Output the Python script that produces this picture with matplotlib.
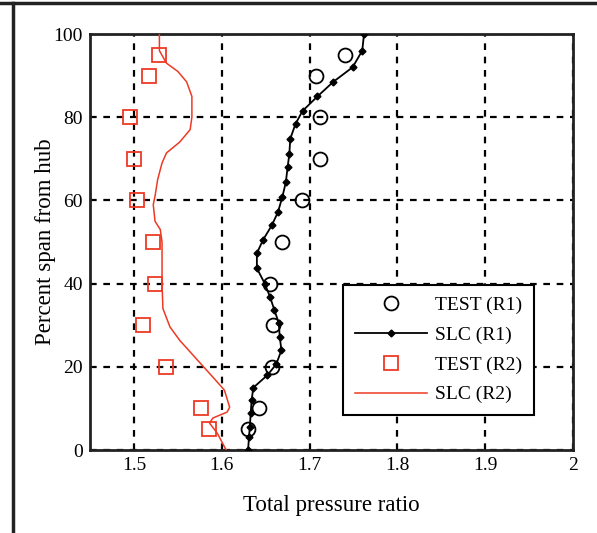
import matplotlib
matplotlib.use("Agg")
import matplotlib.pyplot as plt
from matplotlib.lines import Line2D

plt.rcParams['font.family'] = ['Liberation Serif', 'DejaVu Serif']

# TEST (R1)
test_r1_x = [1.740, 1.707, 1.712, 1.712, 1.691, 1.669, 1.655, 1.658, 1.657, 1.642, 1.630]
test_r1_y = [95, 90, 80, 70, 60, 50, 40, 30, 20, 10, 5]

# SLC (R1)
slc_r1_y = [0, 3.1, 5.6, 8.9, 12.0, 15.0, 18.0, 20.6, 24.0, 27.2, 30.5, 33.6, 36.8,
            40.0, 43.7, 47.3, 50.5, 54.0, 57.2, 60.8, 64.4, 68.0, 71.2, 74.8, 78.4,
            81.5, 85.0, 88.5, 92.0, 96.0, 100.0]
slc_r1_x = [1.630, 1.631, 1.632, 1.633, 1.634, 1.636, 1.652, 1.662, 1.668, 1.666, 1.665,
            1.660, 1.655, 1.649, 1.640, 1.640, 1.647, 1.657, 1.664, 1.669, 1.673, 1.675,
            1.677, 1.678, 1.684, 1.692, 1.709, 1.727, 1.749, 1.760, 1.762]

# TEST (R2)
test_r2_x = [1.528, 1.517, 1.496, 1.500, 1.503, 1.522, 1.524, 1.510, 1.537, 1.576, 1.585]
test_r2_y = [95, 90, 80, 70, 60, 50, 40, 30, 20, 10, 5]

# SLC (R2)
slc_r2_y = [0, 4.0, 6.5, 7.7, 9.1, 10.3, 14.4, 17.5, 21.0, 26.4, 29.6, 34.0, 40.0,
            50.0, 53.0, 55.0, 59.0, 61.0, 65.0, 69.0, 71.4, 74.0, 77.0, 80.0, 85.0,
            88.5, 91.0, 93.0, 96.0, 100.0]
slc_r2_x = [1.605, 1.595, 1.586, 1.590, 1.606, 1.609, 1.603, 1.590, 1.575, 1.552, 1.541,
            1.533, 1.532, 1.532, 1.530, 1.524, 1.522, 1.524, 1.527, 1.532, 1.537, 1.552,
            1.564, 1.566, 1.566, 1.560, 1.550, 1.537, 1.529, 1.529]

x_ticks = [1.5, 1.6, 1.7, 1.8, 1.9, 2.0]
x_tick_labels = ['1.5', '1.6', '1.7', '1.8', '1.9', '2']
y_ticks = [0, 20, 40, 60, 80, 100]

red = '#EE3A24'

fig = plt.figure(figsize=(5.97, 5.33), dpi=100)
ax = fig.add_axes([0.1508, 0.1557, 0.809, 0.7805])

ax.plot(test_r1_x, test_r1_y, linestyle='none', marker='o', markersize=10,
        markerfacecolor='none', markeredgecolor='black', markeredgewidth=1.3,
        label='TEST (R1)', zorder=4)
ax.plot(slc_r1_x, slc_r1_y, color='black', linewidth=1.3, marker='D', markersize=3.5,
        markerfacecolor='black', markeredgecolor='black', label='SLC (R1)', zorder=3)
ax.plot(test_r2_x, test_r2_y, linestyle='none', marker='s', markersize=10,
        markerfacecolor='none', markeredgecolor=red, markeredgewidth=1.3,
        label='TEST (R2)', zorder=4)
ax.plot(slc_r2_x, slc_r2_y, color=red, linewidth=1.1, label='SLC (R2)', zorder=3)

ax.set_xlim(1.45, 2.0)
ax.set_ylim(0, 100)
ax.set_xticks(x_ticks)
ax.set_xticklabels(x_tick_labels)
ax.set_yticks(y_ticks)
ax.tick_params(axis='both', labelsize=14, length=0)
ax.tick_params(axis='x', pad=5)
ax.tick_params(axis='y', pad=5)
ax.grid(True, color='black', linestyle=(0, (3, 3)), linewidth=1.6)
ax.set_axisbelow(True)
for s in ax.spines.values():
    s.set_linewidth(2)
    s.set_color('#222222')

ax.set_xlabel('Total pressure ratio', fontsize=16.5, labelpad=15)
ax.set_ylabel('Percent span from hub', fontsize=16.5, labelpad=-2)

leg = ax.legend(loc='lower left', bbox_to_anchor=(0.524, 0.084), fontsize=14,
                frameon=True, fancybox=False, shadow=False, framealpha=1,
                edgecolor='black', handlelength=3.7, labelspacing=0.62,
                borderpad=0.6, handletextpad=0.45, borderaxespad=0)
leg.get_frame().set_linewidth(1.5)

# figure border lines (top and left)
fig.add_artist(Line2D([0, 1], [1 - 3/533, 1 - 3/533], color='#222222', linewidth=2.5,
                      transform=fig.transFigure))
fig.add_artist(Line2D([13/597, 13/597], [0, 1 - 3/533], color='#222222', linewidth=2.5,
                      transform=fig.transFigure))

fig.savefig('out.png', dpi=100)
